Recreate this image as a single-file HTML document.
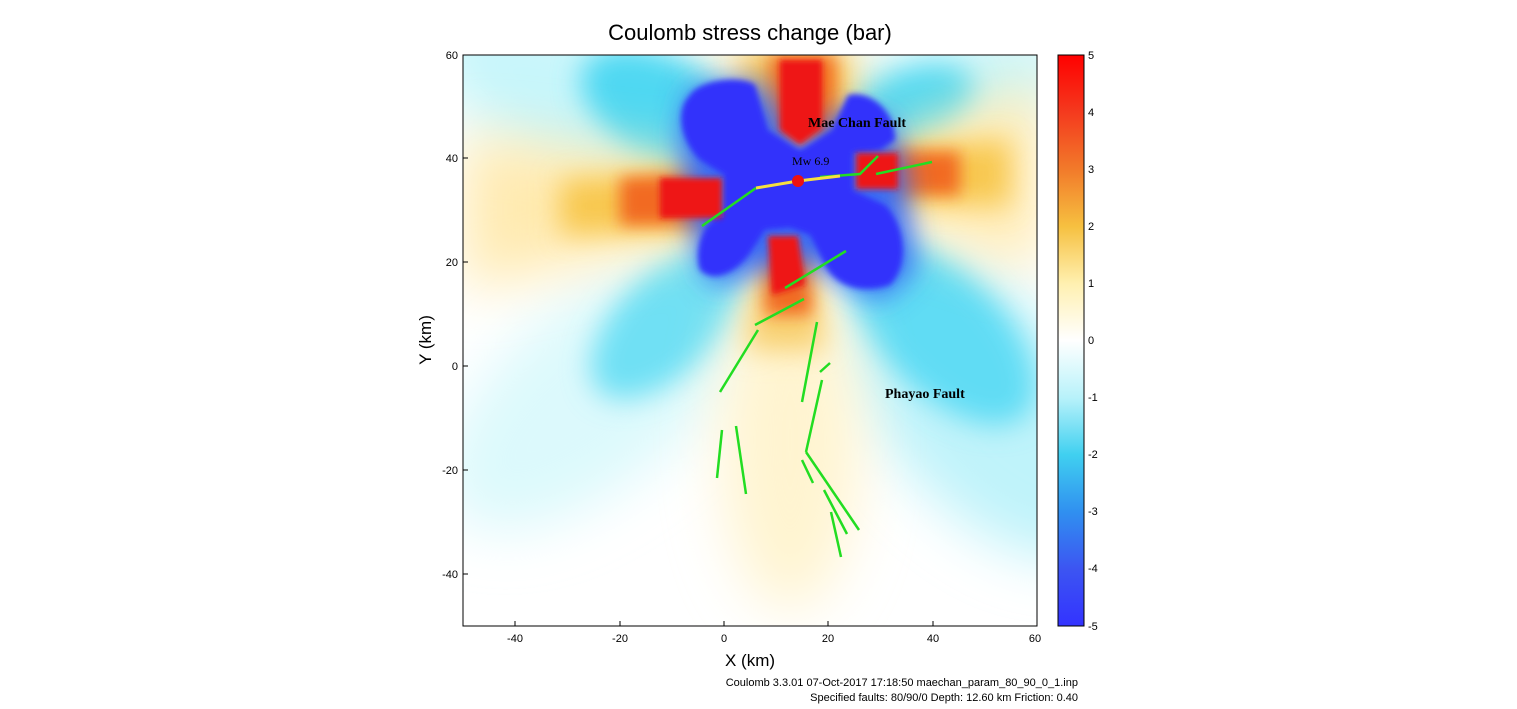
<!DOCTYPE html>
<html><head><style>
body{margin:0;background:#fff;width:1517px;height:704px;overflow:hidden;font-family:"Liberation Sans",sans-serif}
</style></head><body>
<svg width="1517" height="704" xmlns="http://www.w3.org/2000/svg" font-family="Liberation Sans, sans-serif">
<defs>
<clipPath id="pc"><rect x="463" y="55" width="574" height="571"/></clipPath>
<filter id="b30" x="-50%" y="-50%" width="200%" height="200%"><feGaussianBlur stdDeviation="28"/></filter>
<filter id="b15" x="-50%" y="-50%" width="200%" height="200%"><feGaussianBlur stdDeviation="14"/></filter>
<filter id="b8" x="-50%" y="-50%" width="200%" height="200%"><feGaussianBlur stdDeviation="8"/></filter>
<filter id="b3" x="-50%" y="-50%" width="200%" height="200%"><feGaussianBlur stdDeviation="3"/></filter>
<linearGradient id="cb" x1="0" y1="0" x2="0" y2="1">
<stop offset="0" stop-color="#ff0000"/><stop offset="0.1" stop-color="#f43a1e"/>
<stop offset="0.2" stop-color="#f27a2a"/><stop offset="0.3" stop-color="#f6c040"/>
<stop offset="0.4" stop-color="#fff0b0"/><stop offset="0.5" stop-color="#ffffff"/>
<stop offset="0.6" stop-color="#b8f2fa"/><stop offset="0.7" stop-color="#40d0f0"/>
<stop offset="0.8" stop-color="#3090f0"/><stop offset="0.9" stop-color="#3c55f2"/>
<stop offset="1" stop-color="#3333ff"/></linearGradient>
</defs>
<text x="750" y="40" font-size="22" text-anchor="middle">Coulomb stress change (bar)</text>
<g clip-path="url(#pc)">
<rect x="463" y="55" width="574" height="571" fill="#fff"/>
<g filter="url(#b30)">
<ellipse cx="600" cy="110" rx="190" ry="75" transform="rotate(25 600 110)" fill="#c8f6fb"/>
<ellipse cx="930" cy="100" rx="150" ry="55" transform="rotate(-20 930 100)" fill="#c8f6fb"/>
<ellipse cx="980" cy="400" rx="190" ry="100" transform="rotate(50 980 400)" fill="#bff3fa"/>
<ellipse cx="600" cy="390" rx="190" ry="90" transform="rotate(-40 600 390)" fill="#dcf9fc"/>
</g>
<g filter="url(#b15)">
<ellipse cx="680" cy="120" rx="110" ry="55" transform="rotate(30 680 120)" fill="#50d8f2"/>
<ellipse cx="900" cy="115" rx="80" ry="40" transform="rotate(-25 900 115)" fill="#50d8f2"/>
<ellipse cx="940" cy="330" rx="120" ry="60" transform="rotate(45 940 330)" fill="#60dcf4"/>
<ellipse cx="670" cy="320" rx="100" ry="50" transform="rotate(-45 670 320)" fill="#70e0f4"/>
</g>
<g filter="url(#b30)">
<polygon points="720,165 463,135 463,290 720,230" fill="#ffeab0"/>
<polygon points="860,155 1040,80 1040,270 860,210" fill="#ffeab0"/>
<ellipse cx="790" cy="440" rx="70" ry="170" fill="#fff4d0"/>
<polygon points="745,150 725,40 855,40 835,150" fill="#ffe090"/>
</g>
<g filter="url(#b15)">
<polygon points="720,168 560,180 560,235 720,230" fill="#f8c850"/>
<polygon points="860,152 1010,140 1010,205 860,202" fill="#f8c850"/>
<polygon points="760,230 745,350 825,350 815,230" fill="#f8d070"/>
<polygon points="752,140 745,55 845,55 845,140" fill="#f8c048"/>
</g>
<g filter="url(#b8)">
<polygon points="725,172 620,178 620,225 725,225" fill="#f26a20"/>
<polygon points="855,150 960,152 960,195 855,195" fill="#f26a20"/>
<polygon points="765,230 765,315 812,315 808,230" fill="#f26a20"/>
<polygon points="770,55 835,55 835,140 770,140" fill="#f26a20"/>
</g>
<g filter="url(#b15)">
<path d="M690,90 L760,80 L800,150 L840,110 L890,120 L905,170 L915,270 L880,300 L800,260 L710,285 L690,225 L680,130 Z" fill="#3a6cf4"/>
</g>
<g filter="url(#b3)">
<path d="M690,95 C700,80 740,75 755,85 L768,130 L800,150 L832,130 L848,95 C870,90 895,110 895,140 L880,150 L853,153 L853,190 L885,205 C905,225 910,265 890,285 C860,295 835,285 825,265 L810,235 L790,228 L765,230 L752,250 C740,270 715,285 700,270 C695,255 700,235 708,225 L724,210 L724,175 L700,160 C680,140 675,110 690,95 Z" fill="#3333fb"/>
</g>
<rect x="660" y="178" width="62" height="40" fill="#ee1515" filter="url(#b3)"/>
<rect x="856" y="153" width="42" height="36" fill="#ee1515" filter="url(#b3)"/>
<polygon points="780,60 822,60 822,128 800,145 780,130" fill="#ee1515" filter="url(#b3)"/>
<polygon points="768,236 798,236 805,285 772,295" fill="#ee1515" filter="url(#b3)"/>
</g>
<g stroke="#22dd22" stroke-width="2.5" fill="none">
<polyline points="702,226 756,188"/>
<polyline points="820,177 860,174 878,156"/>
<polyline points="876,174 932,162"/>
<line x1="785" y1="288" x2="846" y2="251"/>
<line x1="755" y1="325" x2="804" y2="299"/>
<line x1="720" y1="392" x2="758" y2="330"/>
<line x1="802" y1="402" x2="817" y2="322"/>
<line x1="820" y1="372" x2="830" y2="363"/>
<line x1="806" y1="452" x2="822" y2="380"/>
<line x1="806" y1="452" x2="859" y2="530"/>
<line x1="802" y1="460" x2="813" y2="483"/>
<line x1="824" y1="490" x2="847" y2="534"/>
<line x1="831" y1="512" x2="841" y2="557"/>
<line x1="722" y1="430" x2="717" y2="478"/>
<line x1="736" y1="426" x2="746" y2="494"/>
</g>
<polyline points="756,188 798,181 840,176" stroke="#f6e040" stroke-width="3" fill="none"/>
<circle cx="798" cy="181" r="6" fill="#ee1111"/>
<text x="792" y="165" font-family="Liberation Serif, serif" font-size="12">Mw 6.9</text>
<text x="808" y="127" font-family="Liberation Serif, serif" font-size="14" font-weight="bold">Mae Chan Fault</text>
<text x="885" y="398" font-family="Liberation Serif, serif" font-size="14" font-weight="bold">Phayao Fault</text>
<rect x="463" y="55" width="574" height="571" fill="none" stroke="#000" stroke-width="1"/>
<g font-size="11" text-anchor="middle" fill="#000">
<text x="515" y="642">-40</text><text x="620" y="642">-20</text><text x="724" y="642">0</text>
<text x="828" y="642">20</text><text x="933" y="642">40</text><text x="1035" y="642">60</text>
</g>
<g font-size="11" text-anchor="end" fill="#000">
<text x="458" y="59">60</text><text x="458" y="162">40</text><text x="458" y="266">20</text>
<text x="458" y="370">0</text><text x="458" y="474">-20</text><text x="458" y="578">-40</text>
</g>
<g stroke="#000" stroke-width="1">
<line x1="515" y1="626" x2="515" y2="621"/><line x1="620" y1="626" x2="620" y2="621"/><line x1="724" y1="626" x2="724" y2="621"/><line x1="828" y1="626" x2="828" y2="621"/><line x1="933" y1="626" x2="933" y2="621"/>
<line x1="463" y1="158" x2="468" y2="158"/><line x1="463" y1="262" x2="468" y2="262"/><line x1="463" y1="366" x2="468" y2="366"/><line x1="463" y1="470" x2="468" y2="470"/><line x1="463" y1="574" x2="468" y2="574"/>
</g>
<text x="750" y="666" font-size="17" text-anchor="middle">X (km)</text>
<text x="431" y="340" font-size="17" text-anchor="middle" transform="rotate(-90 431 340)">Y (km)</text>
<rect x="1058" y="55" width="26" height="571" fill="url(#cb)" stroke="#000"/>
<g font-size="11" fill="#000">
<text x="1088" y="59">5</text><text x="1088" y="116">4</text><text x="1088" y="173">3</text><text x="1088" y="230">2</text><text x="1088" y="287">1</text><text x="1088" y="344">0</text><text x="1088" y="401">-1</text><text x="1088" y="458">-2</text><text x="1088" y="515">-3</text><text x="1088" y="572">-4</text><text x="1088" y="630">-5</text>
</g>
<text x="1078" y="686" font-size="11" text-anchor="end">Coulomb 3.3.01 07-Oct-2017 17:18:50 maechan_param_80_90_0_1.inp</text>
<text x="1078" y="701" font-size="11" text-anchor="end">Specified faults: 80/90/0  Depth: 12.60 km  Friction: 0.40</text>
</svg>
</body></html>
